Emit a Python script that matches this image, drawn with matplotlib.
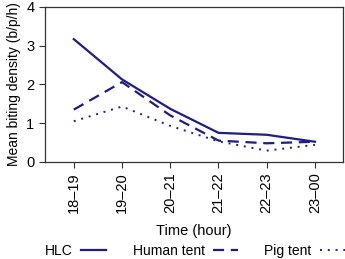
import matplotlib
matplotlib.use('Agg')
import matplotlib.pyplot as plt

hours = ['18–19', '19–20', '20–21', '21–22', '22–23', '23–00']
hlc = [3.17, 2.13, 1.37, 0.75, 0.70, 0.52]
human_tent = [1.35, 2.06, 1.20, 0.55, 0.48, 0.52]
pig_tent = [1.05, 1.43, 0.93, 0.53, 0.29, 0.44]

plt.rcParams['font.family'] = ['Liberation Sans', 'DejaVu Sans']
plt.rcParams['font.size'] = 10.5

navy = '#1c1c8a'
fig = plt.figure(figsize=(3.45, 2.59), dpi=100)
ax = fig.add_axes([0.130, 0.375, 0.864, 0.598])

x = range(len(hours))
ax.plot(x, hlc, color=navy, lw=1.6, ls='-', label='HLC')
ax.plot(x, human_tent, color=navy, lw=1.6, ls=(0, (5, 3)), label='Human tent')
ax.plot(x, pig_tent, color=navy, lw=1.4, ls=(0, (1, 3)), label='Pig tent')

ax.set_xlim(-0.6, 5.58)
ax.set_ylim(0, 4)
ax.set_yticks([0, 1, 2, 3, 4])
ax.set_xticks(list(x))
ax.set_xticklabels(hours, rotation=90)
ax.tick_params(direction='out', length=4, width=0.8, color='#333333')
for s in ax.spines.values():
    s.set_color('#333333')
    s.set_linewidth(0.9)

ax.set_xlabel('Time (hour)', labelpad=8)
ax.set_ylabel('Mean biting density (b/p/h)', fontsize=10)

fig.legend(loc='lower center', bbox_to_anchor=(0.565, -0.045), ncol=3, frameon=False,
           markerfirst=False, handlelength=1.8, columnspacing=1.9, handletextpad=0.6,
           fontsize=10)

plt.savefig('out.png', dpi=100)
